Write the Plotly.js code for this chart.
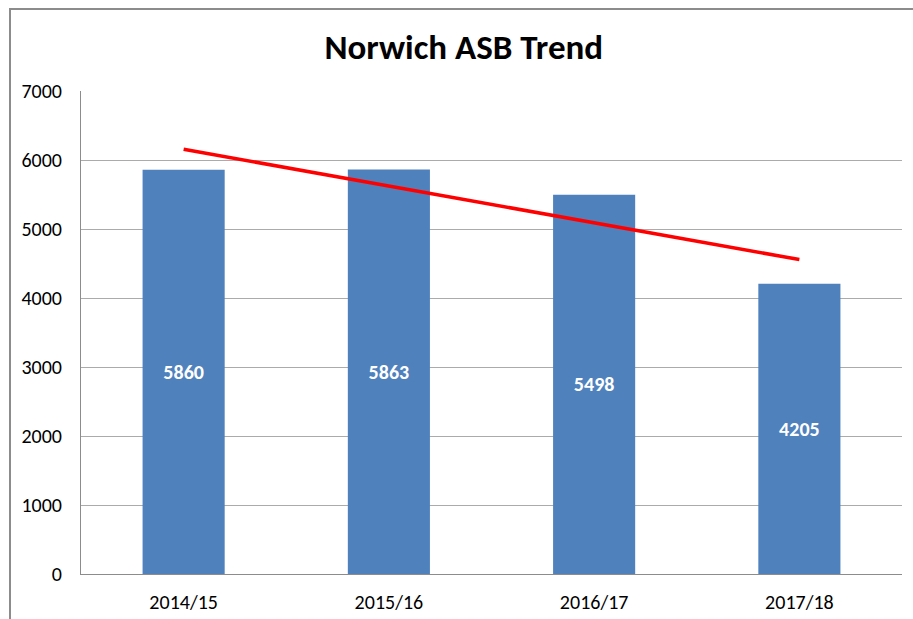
<!DOCTYPE html>
<html>
<head>
<meta charset="utf-8">
<script src="https://cdn.plot.ly/plotly-3.0.1.min.js"></script>
<style>
  html, body { margin: 0; padding: 0; background: #fff; overflow: hidden; }
  #frame { position: absolute; left: 9px; top: 8px; width: 910px; height: 620px;
           border-left: 2px solid #8c8c8c; border-top: 2px solid #8c8c8c; }
  #chart { position: absolute; left: 0; top: 0; width: 913px; height: 619px; }
</style>
</head>
<body>
<div id="frame"></div>
<div id="chart"></div>
<script>
const categories = ["2014/15", "2015/16", "2016/17", "2017/18"];
const asbValues = [5860, 5863, 5498, 4205];
const trendCategories = ["2014/15", "2017/18"];
const trendValues = [6156, 4557];
const yTicks = [0, 1000, 2000, 3000, 4000, 5000, 6000, 7000];

const FONT = "Calibri, Carlito, 'Liberation Sans Narrow', 'Arial Narrow', 'Liberation Sans', sans-serif";

const bars = {
  type: "bar",
  x: categories,
  y: asbValues,
  marker: { color: "#4F81BD" },
  text: asbValues.map(String),
  textposition: "inside",
  insidetextanchor: "middle",
  textangle: 0,
  textfont: { family: FONT, size: 20, color: "#ffffff", weight: "bold" },
  hoverinfo: "x+y",
  cliponaxis: false
};

const trend = {
  type: "scatter",
  mode: "lines",
  x: trendCategories,
  y: trendValues,
  line: { color: "#FF0000", width: 3.5 },
  hoverinfo: "skip"
};

const layout = {
  width: 913,
  height: 619,
  margin: { l: 81, r: 11, t: 91, b: 45 },
  paper_bgcolor: "rgba(0,0,0,0)",
  plot_bgcolor: "#ffffff",
  showlegend: false,
  bargap: 0.6,
  title: {
    text: "<b>Norwich ASB Trend</b>",
    font: { family: FONT, size: 35, color: "#000000" },
    x: 0.508, xanchor: "center",
    y: 0.925, yanchor: "middle"
  },
  xaxis: {
    type: "category",
    categoryorder: "array",
    categoryarray: categories,
    showgrid: false,
    showline: true,
    linecolor: "#8c8c8c",
    linewidth: 1,
    ticks: "",
    ticklabelstandoff: 10,
    tickfont: { family: FONT, size: 20, color: "#000000" },
    fixedrange: true
  },
  yaxis: {
    range: [0, 7000],
    tickvals: yTicks,
    ticktext: yTicks.map(String),
    showgrid: true,
    gridcolor: "#ababab",
    gridwidth: 1,
    showline: true,
    linecolor: "#8c8c8c",
    linewidth: 1,
    zeroline: false,
    ticks: "",
    ticklabelstandoff: 14,
    tickfont: { family: FONT, size: 20, color: "#000000" },
    fixedrange: true
  }
};

Plotly.newPlot("chart", [bars, trend], layout, { displayModeBar: false, staticPlot: true });
</script>
</body>
</html>
